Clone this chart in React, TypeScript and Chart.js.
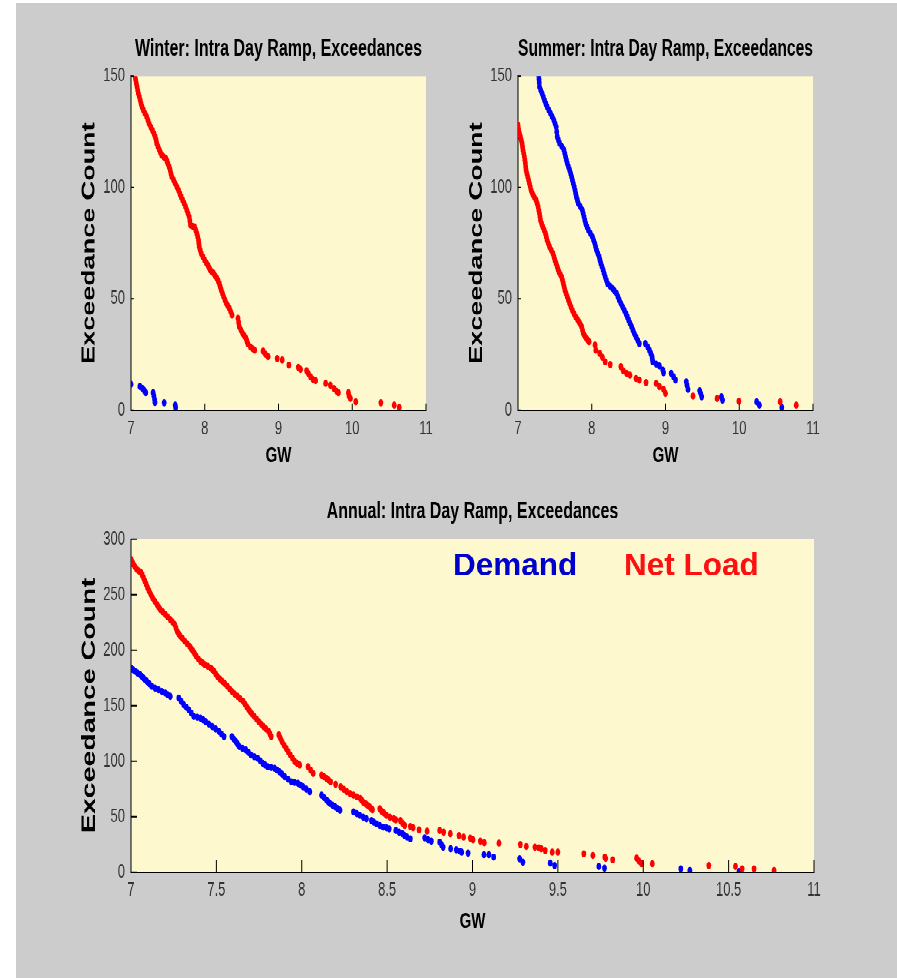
import React, { useEffect, useRef } from 'react';
import { Chart, registerables } from 'chart.js';

Chart.register(...registerables);

// ---------- data (GW, exceedance count) ----------
const xTicksSeason = [7, 8, 9, 10, 11];
const yTicksSeason = [0, 50, 100, 150];
const xTicksAnnual = [7, 7.5, 8, 8.5, 9, 9.5, 10, 10.5, 11];
const yTicksAnnual = [0, 50, 100, 150, 200, 250, 300];

const winterNetLoad: [number, number][] = [
  [7.054, 150], [7.062, 148.5], [7.072, 146.8], [7.082, 145.2], [7.091, 143.7], [7.1, 142.2],
  [7.113, 140.7], [7.125, 139.2], [7.136, 137.7], [7.15, 136.2], [7.168, 134.7], [7.19, 133.2],
  [7.213, 131.7], [7.23, 130.2], [7.245, 128.7], [7.268, 127.2], [7.29, 125.7], [7.312, 124.2],
  [7.327, 122.8], [7.34, 121.3], [7.349, 119.8], [7.366, 118.3], [7.385, 116.8], [7.4, 115.6],
  [7.417, 114.5], [7.445, 113.7], [7.472, 113.0], [7.487, 111.9], [7.499, 110.8], [7.517, 109.3],
  [7.531, 107.8], [7.542, 106.3], [7.553, 104.8], [7.578, 103.3], [7.599, 101.8], [7.622, 100.3],
  [7.644, 98.8], [7.662, 97.3], [7.68, 95.8], [7.7, 94.3], [7.721, 92.8], [7.74, 91.3],
  [7.757, 89.8], [7.773, 88.3], [7.789, 86.8], [7.798, 85.0], [7.807, 83.1], [7.835, 82.6],
  [7.862, 82.3], [7.878, 80.8], [7.893, 79.3], [7.905, 77.8], [7.916, 76.3], [7.92, 74.9],
  [7.925, 73.4], [7.938, 71.9], [7.952, 70.4], [7.975, 68.9], [7.998, 67.4], [8.02, 66.2],
  [8.043, 65.1], [8.058, 64.0], [8.075, 62.9], [8.098, 62.1], [8.12, 61.4], [8.143, 60.2],
  [8.166, 59.1], [8.182, 58.0], [8.197, 56.9], [8.21, 55.4], [8.224, 53.9], [8.24, 52.4],
  [8.256, 50.9], [8.275, 49.4], [8.293, 47.9], [8.313, 46.8], [8.333, 45.7], [8.352, 44.2],
  [8.37, 42.7], [8.451, 41.2], [8.46, 39.3], [8.469, 37.4], [8.492, 35.9], [8.515, 34.4],
  [8.538, 33.3], [8.56, 32.2], [8.572, 31.0], [8.583, 29.9], [8.619, 28.4], [8.648, 27.6],
  [8.678, 26.9], [8.791, 26.5], [8.823, 25.1], [8.859, 24.0], [8.982, 23.2], [9.05, 22.5],
  [9.141, 20.2], [9.268, 19.2], [9.299, 18.3], [9.381, 17.7], [9.404, 16.5], [9.435, 15.0],
  [9.467, 13.8], [9.503, 13.2], [9.639, 12.0], [9.703, 11.2], [9.753, 9.7], [9.789, 8.5],
  [9.812, 7.8], [9.948, 7.8], [9.957, 6.3], [9.975, 5.2], [10.048, 3.7], [10.388, 3.3],
  [10.569, 2.2], [10.637, 1.2],
];

const winterDemand: [number, number][] = [
  [7.0, 11.6], [7.12, 10.6], [7.155, 9.8], [7.18, 8.8], [7.2, 7.8], [7.3, 7.8],
  [7.31, 6.4], [7.32, 4.8], [7.325, 3.4], [7.45, 3.3], [7.6, 2.2], [7.605, 1.2],
];

const summerDemand: [number, number][] = [
  [7.282, 150], [7.285, 148.5], [7.288, 147.0], [7.291, 145.2], [7.308, 143.7], [7.327, 142.2],
  [7.343, 140.7], [7.359, 139.2], [7.377, 137.7], [7.395, 136.2], [7.418, 134.7], [7.441, 133.2],
  [7.464, 131.7], [7.486, 130.2], [7.502, 128.7], [7.518, 127.2], [7.525, 125.0], [7.532, 122.8],
  [7.548, 121.3], [7.564, 119.8], [7.595, 118.3], [7.623, 116.8], [7.634, 115.3], [7.645, 113.8],
  [7.656, 112.3], [7.668, 110.8], [7.684, 109.3], [7.7, 107.8], [7.714, 106.3], [7.727, 104.8],
  [7.738, 103.3], [7.75, 101.8], [7.762, 100.3], [7.773, 98.8], [7.782, 97.3], [7.791, 95.8],
  [7.805, 94.3], [7.818, 92.8], [7.845, 91.3], [7.873, 89.8], [7.884, 88.3], [7.895, 86.8],
  [7.906, 85.3], [7.918, 83.8], [7.936, 82.3], [7.955, 80.8], [7.982, 79.3], [8.009, 77.8],
  [8.025, 76.3], [8.041, 74.9], [8.052, 73.4], [8.064, 71.9], [8.082, 70.4], [8.1, 68.9],
  [8.111, 67.4], [8.123, 65.9], [8.139, 64.4], [8.155, 62.9], [8.168, 61.4], [8.182, 59.9],
  [8.198, 58.4], [8.214, 56.9], [8.248, 55.7], [8.282, 54.6], [8.309, 53.5], [8.336, 52.4],
  [8.355, 50.9], [8.373, 49.4], [8.395, 47.9], [8.418, 46.4], [8.441, 44.9], [8.464, 43.4],
  [8.482, 41.9], [8.5, 40.4], [8.52, 38.9], [8.541, 37.4], [8.559, 35.9], [8.577, 34.4],
  [8.6, 32.9], [8.623, 31.4], [8.645, 29.9], [8.727, 29.9], [8.759, 28.4], [8.782, 26.9],
  [8.8, 25.5], [8.818, 24.0], [8.822, 22.8], [8.827, 21.7], [8.873, 20.7], [8.918, 19.8],
  [8.964, 18.0], [8.973, 16.8], [9.077, 16.5], [9.109, 15.0], [9.136, 13.5], [9.282, 12.7],
  [9.291, 11.2], [9.305, 9.3], [9.464, 8.7], [9.477, 7.5], [9.491, 6.0], [9.759, 6.0],
  [9.773, 4.5], [10.236, 3.7], [10.273, 2.2], [10.577, 1.2],
];

const summerNetLoad: [number, number][] = [
  [7.0, 128], [7.004, 126.8], [7.009, 125.7], [7.02, 124.2], [7.032, 122.8], [7.044, 121.3],
  [7.055, 119.8], [7.062, 118.3], [7.068, 116.8], [7.077, 115.3], [7.086, 113.8], [7.093, 112.3],
  [7.1, 110.8], [7.104, 109.3], [7.109, 107.8], [7.12, 106.3], [7.132, 104.8], [7.144, 103.3],
  [7.155, 101.8], [7.166, 100.3], [7.177, 98.8], [7.19, 97.7], [7.205, 96.6], [7.225, 95.4],
  [7.245, 94.3], [7.26, 92.8], [7.273, 91.3], [7.282, 89.8], [7.291, 88.3], [7.298, 86.8],
  [7.305, 85.3], [7.32, 83.8], [7.336, 82.3], [7.355, 80.8], [7.373, 79.3], [7.384, 77.8],
  [7.395, 76.3], [7.411, 74.9], [7.427, 73.4], [7.45, 71.9], [7.473, 70.4], [7.487, 68.9],
  [7.5, 67.4], [7.516, 65.9], [7.532, 64.4], [7.543, 63.2], [7.555, 62.1], [7.573, 61.0],
  [7.591, 59.9], [7.603, 58.4], [7.614, 56.9], [7.625, 55.4], [7.636, 53.9], [7.652, 52.4],
  [7.668, 50.9], [7.684, 49.4], [7.7, 47.9], [7.718, 46.4], [7.736, 44.9], [7.759, 43.4],
  [7.782, 41.9], [7.805, 40.8], [7.827, 39.7], [7.846, 38.5], [7.864, 37.4], [7.875, 35.9],
  [7.886, 34.4], [7.906, 33.3], [7.927, 32.2], [7.945, 31.5], [7.964, 30.7], [8.045, 29.2],
  [8.055, 26.9], [8.109, 25.4], [8.145, 23.7], [8.182, 21.7], [8.25, 20.5], [8.395, 19.5],
  [8.427, 17.7], [8.473, 16.5], [8.518, 15.7], [8.6, 14.2], [8.645, 13.5], [8.736, 12.4],
  [8.873, 12.0], [8.918, 10.5], [8.973, 9.3], [9.0, 7.5], [9.373, 6.3], [9.7, 5.2],
  [9.995, 4.0], [10.555, 3.7], [10.773, 2.2],
];

const annualNetLoad: [number, number][] = [
  [7.0, 281.9], [7.007, 279.6], [7.014, 277.4], [7.023, 275.1], [7.033, 272.8], [7.046, 271.3],
  [7.059, 269.8], [7.066, 267.5], [7.073, 265.3], [7.081, 262.3], [7.089, 259.3], [7.097, 256.2],
  [7.106, 253.2], [7.116, 250.2], [7.126, 247.2], [7.139, 244.2], [7.152, 241.2], [7.161, 239.0],
  [7.171, 236.7], [7.186, 234.4], [7.201, 232.1], [7.215, 229.9], [7.23, 227.6], [7.243, 225.4],
  [7.256, 223.1], [7.263, 220.1], [7.27, 217.1], [7.279, 214.8], [7.289, 212.5], [7.302, 210.3],
  [7.315, 208.0], [7.329, 205.8], [7.343, 203.5], [7.353, 201.2], [7.364, 199.0], [7.373, 196.7],
  [7.382, 194.5], [7.394, 192.2], [7.407, 189.9], [7.42, 188.4], [7.433, 186.9], [7.45, 185.4],
  [7.467, 183.9], [7.476, 182.4], [7.486, 180.9], [7.496, 178.6], [7.506, 176.4], [7.52, 174.1],
  [7.535, 171.8], [7.55, 169.6], [7.565, 167.3], [7.578, 165.0], [7.591, 162.8], [7.607, 160.5],
  [7.624, 158.3], [7.64, 156.0], [7.657, 153.8], [7.667, 151.5], [7.677, 149.2], [7.687, 147.0],
  [7.697, 144.7], [7.709, 142.4], [7.722, 140.2], [7.735, 137.9], [7.748, 135.7], [7.762, 133.4],
  [7.776, 131.1], [7.791, 128.9], [7.807, 126.6], [7.814, 124.3], [7.821, 122.1], [7.866, 123.6],
  [7.875, 120.6], [7.884, 117.6], [7.896, 114.5], [7.909, 111.5], [7.921, 108.5], [7.933, 105.5],
  [7.946, 102.5], [7.959, 99.5], [7.973, 98.0], [7.988, 96.5], [8.037, 95.0], [8.052, 91.9],
  [8.067, 88.9], [8.116, 87.4], [8.131, 85.9], [8.146, 84.4], [8.157, 82.9], [8.169, 81.4],
  [8.198, 79.1], [8.228, 76.9], [8.246, 74.6], [8.264, 72.4], [8.283, 70.8], [8.303, 69.3],
  [8.323, 67.8], [8.343, 66.3], [8.351, 64.7], [8.36, 63.1], [8.369, 62.0], [8.379, 61.0],
  [8.389, 59.8], [8.399, 58.6], [8.406, 57.4], [8.414, 56.2], [8.457, 57.1], [8.467, 55.0],
  [8.481, 53.2], [8.496, 51.1], [8.516, 49.5], [8.539, 48.0], [8.551, 47.1], [8.578, 46.5],
  [8.59, 44.1], [8.603, 42.0], [8.636, 41.1], [8.652, 39.9], [8.687, 38.1], [8.734, 36.9],
  [8.808, 37.5], [8.831, 36.0], [8.87, 34.5], [8.921, 33.0], [8.948, 31.5], [8.987, 30.6],
  [9.003, 29.1], [9.046, 27.9], [9.069, 26.4], [9.155, 26.1], [9.28, 24.9], [9.315, 23.1],
  [9.366, 22.5], [9.389, 21.9], [9.403, 21.0], [9.426, 19.5], [9.467, 18.0], [9.5, 18.0],
  [9.652, 16.5], [9.705, 15.0], [9.775, 13.5], [9.78, 12.3], [9.821, 11.1], [9.961, 12.6],
  [9.975, 9.9], [9.99, 7.5], [10.053, 7.5], [10.384, 6.0], [10.54, 5.1], [10.579, 3.0],
  [10.649, 3.0], [10.766, 1.5],
];

const annualDemand: [number, number][] = [
  [7.0, 183.9], [7.012, 182.4], [7.024, 180.9], [7.038, 179.4], [7.053, 177.9], [7.063, 176.4],
  [7.073, 174.8], [7.083, 173.3], [7.093, 171.8], [7.107, 169.6], [7.122, 167.3], [7.141, 165.8],
  [7.161, 164.3], [7.181, 162.8], [7.201, 161.3], [7.215, 159.8], [7.23, 158.3], [7.28, 156.8],
  [7.294, 153.8], [7.309, 150.7], [7.324, 148.5], [7.339, 146.2], [7.353, 143.2], [7.368, 140.2],
  [7.388, 139.5], [7.407, 138.7], [7.422, 137.2], [7.437, 135.7], [7.456, 133.4], [7.476, 131.1],
  [7.496, 128.9], [7.516, 126.6], [7.53, 124.3], [7.545, 122.1], [7.591, 122.1], [7.602, 119.9],
  [7.614, 117.6], [7.624, 115.4], [7.634, 113.1], [7.653, 111.6], [7.673, 110.0], [7.688, 107.8],
  [7.703, 105.5], [7.722, 104.0], [7.742, 102.5], [7.757, 100.3], [7.772, 98.0], [7.786, 96.5],
  [7.801, 95.0], [7.821, 94.3], [7.841, 93.5], [7.855, 92.0], [7.87, 90.4], [7.885, 88.2],
  [7.9, 85.9], [7.92, 83.7], [7.939, 81.4], [7.958, 80.7], [7.978, 79.9], [7.993, 78.4],
  [8.008, 76.9], [8.027, 74.7], [8.047, 72.4], [8.116, 69.3], [8.131, 67.1], [8.146, 64.8],
  [8.155, 63.3], [8.165, 61.8], [8.18, 60.3], [8.195, 58.8], [8.21, 57.3], [8.224, 55.8],
  [8.303, 54.3], [8.322, 52.7], [8.34, 51.1], [8.36, 49.5], [8.379, 48.0], [8.408, 46.5],
  [8.422, 45.0], [8.438, 43.5], [8.457, 42.0], [8.477, 40.5], [8.496, 39.9], [8.512, 39.0],
  [8.551, 37.5], [8.57, 36.0], [8.59, 34.5], [8.603, 33.0], [8.617, 31.5], [8.636, 30.0],
  [8.72, 30.9], [8.74, 29.1], [8.759, 27.9], [8.808, 27.0], [8.818, 24.9], [8.828, 22.5],
  [8.872, 21.0], [8.905, 20.1], [8.925, 18.9], [8.937, 18.0], [8.974, 17.1], [9.067, 15.6],
  [9.096, 15.6], [9.124, 13.5], [9.276, 12.0], [9.295, 9.0], [9.455, 8.1], [9.481, 6.0],
  [9.74, 5.1], [9.773, 3.6], [10.22, 3.0], [10.273, 1.5], [10.561, 0.6],
];

// ---------- styling ----------
const STRETCH = 1.5; // the reference figure is stretched vertically
const FONT = "'Liberation Sans', Arial, Helvetica, sans-serif";
const RED = '#ff0000';
const BLUE = '#0000ff';
const PLOT_BG = '#fef8ce';
const FIG_BG = '#cccccc';

type Series = { label: string; color: string; data: [number, number][] };

const plotBackground = {
  id: 'plotBackground',
  beforeDraw(chart: any) {
    const { ctx, chartArea: a } = chart;
    ctx.save();
    ctx.fillStyle = PLOT_BG;
    ctx.fillRect(a.left, a.top, a.right - a.left, a.bottom - a.top);
    ctx.restore();
  },
};

function makeInwardTicks(xLen: number, yLen: number) {
  return {
    id: 'inwardTicks',
    afterDatasetsDraw(chart: any) {
      const { ctx, chartArea: a } = chart;
      const xs = chart.scales.x;
      const ys = chart.scales.y;
      ctx.save();
      ctx.strokeStyle = '#000';
      ctx.lineWidth = 1;
      ctx.beginPath();
      xs.ticks.forEach((t: any) => {
        const p = xs.getPixelForValue(t.value);
        ctx.moveTo(p, a.bottom);
        ctx.lineTo(p, a.bottom - xLen);
      });
      ys.ticks.forEach((t: any) => {
        const p = ys.getPixelForValue(t.value);
        ctx.moveTo(a.left, p);
        ctx.lineTo(a.left + yLen, p);
      });
      ctx.stroke();
      ctx.restore();
    },
  };
}

function makeSeriesLabels(items: { index: number; fx: number; color: string }[], fy: number, size: number) {
  return {
    id: 'seriesLabels',
    afterDatasetsDraw(chart: any) {
      const { ctx, chartArea: a } = chart;
      const w = a.right - a.left;
      const h = a.bottom - a.top;
      items.forEach((it) => {
        const ds = chart.data.datasets[it.index];
        ctx.save();
        ctx.translate(a.left + it.fx * w, a.top + fy * h);
        ctx.scale(1, 1 / STRETCH);
        ctx.font = `bold ${size}px ${FONT}`;
        ctx.textAlign = 'left';
        ctx.textBaseline = 'alphabetic';
        ctx.fillStyle = it.color;
        ctx.fillText(ds.label, 0, 0);
        ctx.restore();
      });
    },
  };
}

const tickText = (v: any) => String(Number(Number(v).toFixed(2)));

type Params = {
  title: string;
  series: Series[];
  xTicks: number[];
  yTicks: number[];
  padding: { left: number; right: number; top: number; bottom: number };
  titlePad: { top: number; bottom: number };
  xAxisHeight: number;
  xTickPad: number;
  xTitlePadBottom: number;
  yTitleSize: number;
  yTitlePadTop: number;
  tickLen: [number, number];
  extraPlugins?: any[];
};

function buildConfig(p: Params): any {
  const xStep = p.xTicks[1] - p.xTicks[0];
  const yStep = p.yTicks[1] - p.yTicks[0];
  return {
    type: 'scatter',
    data: {
      datasets: p.series.map((s) => ({
        label: s.label,
        data: s.data.map(([x, y]) => ({ x, y })),
        backgroundColor: s.color,
        borderColor: s.color,
        pointRadius: 2.4,
        pointBorderWidth: 0,
        pointHoverRadius: 2.4,
      })),
    },
    options: {
      animation: false,
      responsive: true,
      maintainAspectRatio: false,
      devicePixelRatio: 2,
      events: [],
      layout: { padding: p.padding },
      plugins: {
        legend: { display: false },
        tooltip: { enabled: false },
        title: {
          display: true,
          text: p.title,
          fullSize: false,
          color: '#000',
          font: { family: FONT, size: 16, weight: 'bold', lineHeight: 1.2 },
          padding: p.titlePad,
        },
      },
      scales: {
        x: {
          type: 'linear',
          min: p.xTicks[0],
          max: p.xTicks[p.xTicks.length - 1],
          afterFit: (s: any) => {
            s.height = p.xAxisHeight;
          },
          grid: { display: false, drawTicks: false },
          border: { display: true, color: '#000', width: 1 },
          ticks: {
            stepSize: xStep,
            padding: p.xTickPad,
            color: '#333',
            maxRotation: 0,
            autoSkip: false,
            callback: tickText,
            font: { family: FONT, size: 13 },
          },
          title: {
            display: true,
            text: 'GW',
            color: '#000',
            font: { family: FONT, size: 15, weight: 'bold', lineHeight: 1.2 },
            padding: { top: 0, bottom: p.xTitlePadBottom },
          },
        },
        y: {
          type: 'linear',
          min: p.yTicks[0],
          max: p.yTicks[p.yTicks.length - 1],
          afterFit: (s: any) => {
            s.width = 60;
          },
          grid: { display: false, drawTicks: false },
          border: { display: true, color: '#000', width: 1 },
          ticks: {
            stepSize: yStep,
            padding: 6,
            color: '#333',
            autoSkip: false,
            callback: tickText,
            font: { family: FONT, size: 13 },
          },
          title: {
            display: true,
            text: 'Exceedance Count',
            color: '#000',
            font: { family: FONT, size: p.yTitleSize, weight: 'bold', lineHeight: 1.2 },
            padding: { top: p.yTitlePadTop, bottom: 0 },
          },
        },
      },
    },
    plugins: [plotBackground, makeInwardTicks(p.tickLen[0], p.tickLen[1]), ...(p.extraPlugins || [])],
  };
}

const winterParams: Params = {
  title: 'Winter: Intra Day Ramp, Exceedances',
  series: [
    { label: 'Net Load', color: RED, data: winterNetLoad },
    { label: 'Demand', color: BLUE, data: winterDemand },
  ],
  xTicks: xTicksSeason,
  yTicks: yTicksSeason,
  padding: { left: 55, right: 24, top: 0, bottom: 1.67 },
  titlePad: { top: 23.1, bottom: 8.37 },
  xAxisHeight: 45,
  xTickPad: 5,
  xTitlePadBottom: 5.3,
  yTitleSize: 18,
  yTitlePadTop: 7.7,
  tickLen: [4.5, 3],
};

const summerParams: Params = {
  ...winterParams,
  title: 'Summer: Intra Day Ramp, Exceedances',
  series: [
    { label: 'Net Load', color: RED, data: summerNetLoad },
    { label: 'Demand', color: BLUE, data: summerDemand },
  ],
  padding: { left: 8, right: 84, top: 0, bottom: 1.67 },
  yTitlePadTop: 8.2,
};

const annualParams: Params = {
  title: 'Annual: Intra Day Ramp, Exceedances',
  series: [
    { label: 'Net Load', color: RED, data: annualNetLoad },
    { label: 'Demand', color: BLUE, data: annualDemand },
  ],
  xTicks: xTicksAnnual,
  yTicks: yTicksAnnual,
  padding: { left: 55, right: 83, top: 0, bottom: 22.67 },
  titlePad: { top: 11.5, bottom: 8.63 },
  xAxisHeight: 48,
  xTickPad: 4.2,
  xTitlePadBottom: 6,
  yTitleSize: 19,
  yTitlePadTop: 7.2,
  tickLen: [8, 6],
  extraPlugins: [
    makeSeriesLabels(
      [
        { index: 1, fx: 0.4714, color: '#0000cc' },
        { index: 0, fx: 0.7218, color: '#ff1010' },
      ],
      0.108,
      31.5
    ),
  ],
};

export default function App() {
  const winterRef = useRef<HTMLCanvasElement | null>(null);
  const summerRef = useRef<HTMLCanvasElement | null>(null);
  const annualRef = useRef<HTMLCanvasElement | null>(null);

  useEffect(() => {
    const charts = [
      new Chart(winterRef.current as HTMLCanvasElement, buildConfig(winterParams)),
      new Chart(summerRef.current as HTMLCanvasElement, buildConfig(summerParams)),
      new Chart(annualRef.current as HTMLCanvasElement, buildConfig(annualParams)),
    ];
    return () => charts.forEach((c) => c.destroy());
  }, []);

  return (
    <div style={{ position: 'absolute', left: 0, top: 0, width: 897, height: 978, overflow: 'hidden', background: '#fff' }}>
      <div style={{ position: 'absolute', left: 16, top: 3, width: 881, height: 975, background: FIG_BG }} />
      <div
        style={{
          position: 'absolute',
          left: 0,
          top: 0,
          width: 897,
          height: 978 / STRETCH,
          transform: `scaleY(${STRETCH})`,
          transformOrigin: '0 0',
        }}
      >
        <div style={{ position: 'absolute', left: 16, top: 0, width: 434, height: 320 }}>
          <canvas ref={winterRef} />
        </div>
        <div style={{ position: 'absolute', left: 450, top: 0, width: 447, height: 320 }}>
          <canvas ref={summerRef} />
        </div>
        <div style={{ position: 'absolute', left: 16, top: 320, width: 881, height: 332 }}>
          <canvas ref={annualRef} />
        </div>
      </div>
    </div>
  );
}
